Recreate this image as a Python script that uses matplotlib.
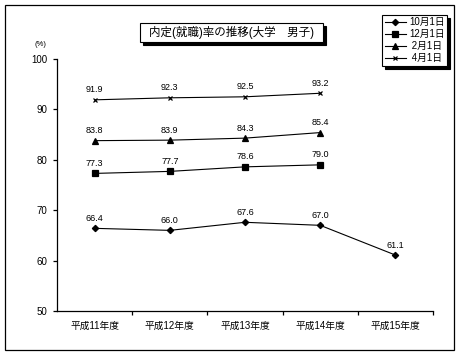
import matplotlib
matplotlib.use("Agg")
import matplotlib.pyplot as plt
from matplotlib.patches import Rectangle

plt.rcParams['font.family'] = ['Liberation Sans', 'Noto Sans CJK JP', 'DejaVu Sans']

categories = ["平成11年度", "平成12年度", "平成13年度", "平成14年度", "平成15年度"]
series_names = ["10月1日", "12月1日", " 2月1日", " 4月1日"]
oct1 = [66.4, 66.0, 67.6, 67.0, 61.1]
dec1 = [77.3, 77.7, 78.6, 79.0]
feb1 = [83.8, 83.9, 84.3, 85.4]
apr1 = [91.9, 92.3, 92.5, 93.2]
yticks = [50, 60, 70, 80, 90, 100]
title = "内定(就職)率の推移(大学　男子)"

W, H = 461, 357
fig = plt.figure(figsize=(W / 100, H / 100), dpi=100)
fig.patch.set_facecolor("white")

def fx(px):
    return px / W

def fy(py):
    return 1 - py / H

# outer frame
fig.patches.append(Rectangle((fx(5), fy(350)), fx(449), 345 / H, transform=fig.transFigure,
                             fill=False, edgecolor="black", linewidth=0.9))

ax = fig.add_axes([fx(57), fy(311), fx(433 - 57), (311 - 59) / H])
ax.set_xlim(0, len(categories))
ax.set_ylim(50, 100)
for s in ["top", "right"]:
    ax.spines[s].set_visible(False)
for s in ["left", "bottom"]:
    ax.spines[s].set_linewidth(0.9)

styles = [
    (oct1, "D", 3.2),
    (dec1, "s", 4.0),
    (feb1, "^", 4.5),
    (apr1, "x", 3.5),
]
for (vals, mk, ms), name in zip(styles, series_names):
    xs = [i + 0.5 for i in range(len(vals))]
    ax.plot(xs, vals, color="black", lw=0.8, marker=mk, ms=ms, mew=0.9,
            mfc="black", mec="black", label=name)
    for x, v in zip(xs, vals):
        ax.annotate(f"{v:.1f}", (x, v), xytext=(0, 4), textcoords="offset points",
                    ha="center", va="bottom", fontsize=6.5)

ax.set_yticks(yticks)
ax.set_yticklabels([str(t) for t in yticks])
ax.tick_params(axis="y", direction="out", length=3, width=0.9, pad=4, labelsize=7)
ax.set_xticks([i + 0.5 for i in range(len(categories))])
ax.set_xticklabels(categories)
ax.set_xticks(list(range(1, len(categories) + 1)), minor=True)
ax.tick_params(axis="x", which="major", length=0, pad=7, labelsize=7)
ax.tick_params(axis="x", which="minor", direction="out", length=3, width=0.9)

fig.text(fx(40), fy(45), "(%)", fontsize=5.5, ha="center", va="center")

# title box with shadow
bx, by, bw, bh = 140, 23, 183, 19
fig.patches.append(Rectangle((fx(bx + 3), fy(by + bh + 3)), fx(bw), bh / H, transform=fig.transFigure,
                             facecolor="black", edgecolor="black", linewidth=0.8))
fig.patches.append(Rectangle((fx(bx), fy(by + bh)), fx(bw), bh / H, transform=fig.transFigure,
                             facecolor="white", edgecolor="black", linewidth=0.8))
fig.text(fx(bx + bw / 2), fy(by + bh / 2), title, fontsize=8.3, ha="center", va="center")

leg = fig.legend(loc="upper right", bbox_to_anchor=(fx(447), fy(15)), fontsize=7,
                 frameon=True, fancybox=False, edgecolor="black", framealpha=1,
                 borderpad=0.25, labelspacing=0.2, handlelength=2.2, handletextpad=0.3,
                 numpoints=1, borderaxespad=0,
                 shadow={"color": "black", "alpha": 1, "ox": 2.2, "oy": -2.2})
leg.get_frame().set_linewidth(0.8)

fig.savefig("out.png", dpi=100, facecolor="white")
